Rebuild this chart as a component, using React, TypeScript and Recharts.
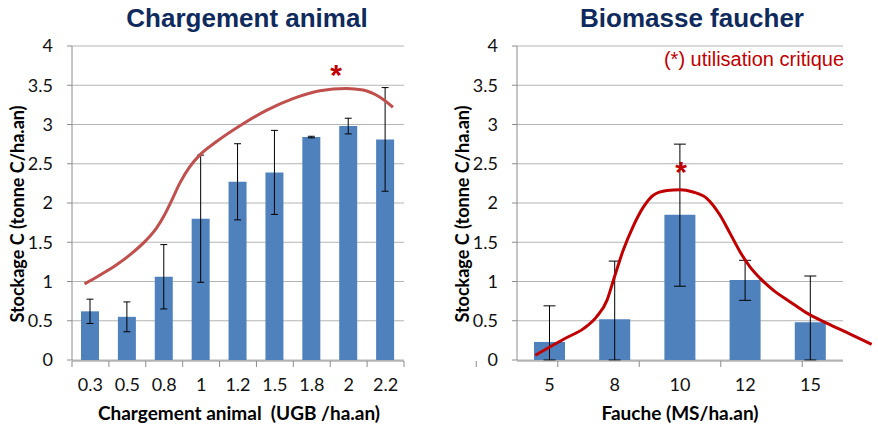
import React from "react";
import {
  ComposedChart,
  Bar,
  Line,
  XAxis,
  YAxis,
  CartesianGrid,
  ErrorBar,
} from "recharts";

// Left panel: chargement animal
const chargeCategories = ["0.3", "0.5", "0.8", "1", "1.2", "1.5", "1.8", "2", "2.2"];
const chargeStock = [0.62, 0.55, 1.06, 1.8, 2.27, 2.39, 2.84, 2.98, 2.81];
const chargeErr = [0.155, 0.19, 0.41, 0.81, 0.485, 0.535, 0.01, 0.1, 0.66];
// trend curve, x in category index units
const chargeCurveX = [-0.16, 0.25, 0.7, 1.15, 1.52, 1.79, 2.01, 2.19, 2.42, 2.69, 2.96, 3.41, 4.14, 4.77, 5.49, 6.22, 6.94, 7.39, 7.84, 8.2];
const chargeCurveY = [0.97, 1.08, 1.21, 1.37, 1.53, 1.68, 1.85, 2.02, 2.25, 2.46, 2.61, 2.78, 3.01, 3.18, 3.33, 3.43, 3.46, 3.44, 3.35, 3.22];

// Right panel: biomasse fauchee
const faucheCategories = ["5", "8", "10", "12", "15"];
const faucheStock = [0.23, 0.52, 1.85, 1.02, 0.48];
const faucheErrLow = [0.23, 0.52, 0.91, 0.26, 0.48];
const faucheErrHigh = [0.46, 0.74, 0.9, 0.25, 0.59];
const faucheCurveX = [-0.22, 0.25, 0.52, 0.72, 0.88, 0.98, 1.13, 1.28, 1.44, 1.59, 1.8, 2.0, 2.2, 2.41, 2.61, 2.77, 2.92, 3.07, 3.23, 3.43, 3.69, 3.94, 4.25, 4.61, 4.94];
const faucheCurveY = [0.06, 0.28, 0.4, 0.55, 0.76, 1.02, 1.4, 1.7, 1.95, 2.1, 2.16, 2.17, 2.14, 2.06, 1.85, 1.61, 1.38, 1.19, 1.04, 0.89, 0.74, 0.6, 0.47, 0.33, 0.2];

const yTicks = [0, 0.5, 1, 1.5, 2, 2.5, 3, 3.5, 4];

const chargeData = chargeCategories.map((name, i) => ({
  name,
  value: chargeStock[i],
  err: chargeErr[i],
}));
const chargeCurve = chargeCurveX.map((x, i) => ({ x, y: chargeCurveY[i] }));
const faucheData = faucheCategories.map((name, i) => ({
  name,
  value: faucheStock[i],
  err: [faucheErrLow[i], faucheErrHigh[i]],
}));
const faucheCurve = faucheCurveX.map((x, i) => ({ x, y: faucheCurveY[i] }));

const W = 878;
const H = 429;
const TOP = 46;
const BOTTOM = 67; // + two 1px x axes = 69
const GRID = "#b4b4b4";
const AXIS = "#8c8c8c";
const BAR = "#4f81bd";
const tickFont = { fontSize: 18, fill: "#111", fontFamily: "Lato, 'Open Sans', sans-serif" };

const boundaries = (n: number) => Array.from({ length: n + 1 }, (_, i) => i - 0.5);
const NoTick = () => <g />;

// right panel geometry
const R_LEFT = 440;
const R_YW = 77;
const R_RIGHT = 35;
const rPlotW = 438 - R_YW - R_RIGHT;
const rBand = rPlotW / faucheCategories.length;
const overlayPlotW = 438 - R_YW;

export default function App() {
  return (
    <div style={{ position: "absolute", left: 0, top: 0, width: W, height: H, background: "#fff", overflow: "hidden" }}>
      {/* left chart */}
      <div style={{ position: "absolute", left: 0, top: 0 }}>
        <ComposedChart width={440} height={H} data={chargeData} margin={{ top: TOP, right: 36, bottom: BOTTOM, left: 0 }}>
          <CartesianGrid horizontal vertical={false} stroke={GRID} />
          <YAxis
            domain={[0, 4]}
            ticks={yTicks}
            width={72}
            tickSize={5}
            tickMargin={14}
            axisLine={{ stroke: AXIS }}
            tickLine={{ stroke: AXIS }}
            tick={tickFont}
          />
          <XAxis xAxisId="b" type="number" dataKey="x" domain={[-0.5, 8.5]} ticks={boundaries(9)} interval={0} height={1}
            tickSize={6} tick={NoTick} axisLine={{ stroke: AXIS }} tickLine={{ stroke: AXIS }} />
          <XAxis dataKey="name" height={1} interval={0} axisLine={false} tickLine={false} tickSize={0} tickMargin={18} tick={tickFont} />
          <Bar dataKey="value" fill={BAR} barSize={18} isAnimationActive={false}>
            <ErrorBar dataKey="err" width={3.5} stroke="#000" strokeWidth={1} direction="y" />
          </Bar>
          <Line xAxisId="b" data={chargeCurve} dataKey="y" type="monotone" stroke="#c0504d" strokeWidth={3}
            dot={false} activeDot={false} isAnimationActive={false} />
        </ComposedChart>
      </div>

      {/* right chart */}
      <div style={{ position: "absolute", left: R_LEFT, top: 0 }}>
        <ComposedChart width={438} height={H} data={faucheData} margin={{ top: TOP, right: R_RIGHT, bottom: BOTTOM, left: 0 }}>
          <CartesianGrid horizontal vertical={false} stroke={GRID} />
          <YAxis
            domain={[0, 4]}
            ticks={yTicks}
            width={R_YW}
            tickSize={5}
            tickMargin={14}
            axisLine={{ stroke: AXIS }}
            tickLine={{ stroke: AXIS }}
            tick={tickFont}
          />
          <XAxis xAxisId="b" type="number" domain={[-0.5, 4.5]} allowDataOverflow ticks={boundaries(5)} interval={0} height={1}
            tickSize={6} tick={NoTick} axisLine={{ stroke: AXIS }} tickLine={{ stroke: AXIS }} />
          <XAxis dataKey="name" height={1} interval={0} axisLine={false} tickLine={false} tickSize={0} tickMargin={18} tick={tickFont} />
          <Bar dataKey="value" fill={BAR} barSize={31} isAnimationActive={false}>
            <ErrorBar dataKey="err" width={6} stroke="#000" strokeWidth={1} direction="y" />
          </Bar>
        </ComposedChart>
      </div>

      {/* right curve overlay: its plot area runs past the grid, like the original */}
      <div style={{ position: "absolute", left: R_LEFT, top: 0, pointerEvents: "none" }}>
        <ComposedChart width={438} height={H} margin={{ top: TOP, right: 0, bottom: BOTTOM + 2, left: R_YW }}>
          <YAxis hide domain={[0, 4]} />
          <XAxis hide type="number" dataKey="x" domain={[-0.5, -0.5 + overlayPlotW / rBand]} />
          <Line data={faucheCurve} dataKey="y" type="monotone" stroke="#c00000" strokeWidth={3}
            dot={false} activeDot={false} isAnimationActive={false} />
        </ComposedChart>
      </div>

      {/* titles and labels */}
      <svg width={W} height={H} style={{ position: "absolute", left: 0, top: 0, pointerEvents: "none" }}>
        <g fontFamily="'Liberation Sans', Arial, sans-serif" fontWeight="bold" fontSize={26} fill="#0f2a5c" textAnchor="middle">
          <text x={247} y={27}>Chargement animal</text>
          <text x={692} y={27}>Biomasse faucher</text>
        </g>
        <g fontFamily="Lato, 'Open Sans', sans-serif" fontWeight="bold" fontSize={19} fill="#000" textAnchor="middle">
          <text x={239} y={420} xmlSpace="preserve">Chargement animal  (UGB /ha.an)</text>
          <text x={680} y={420}>Fauche (MS/ha.an)</text>
        </g>
        <g fontFamily="Lato, 'Open Sans', sans-serif" fontWeight="bold" fontSize={18} fill="#000" textAnchor="middle">
          <text transform="translate(24,214) rotate(-90)">Stockage C (tonne C/ha.an)</text>
          <text transform="translate(469,214) rotate(-90)">Stockage C (tonne C/ha.an)</text>
        </g>
        <text x={754} y={66} textAnchor="middle" fontFamily="'Liberation Sans', Arial, sans-serif" fontSize={20} fill="#c00000">
          (*) utilisation critique
        </text>
        <g fontFamily="'Liberation Sans', Arial, sans-serif" fontWeight="bold" fontSize={30} fill="#c00000" textAnchor="middle">
          <text x={336} y={85}>*</text>
          <text x={681} y={182}>*</text>
        </g>
      </svg>
    </div>
  );
}
